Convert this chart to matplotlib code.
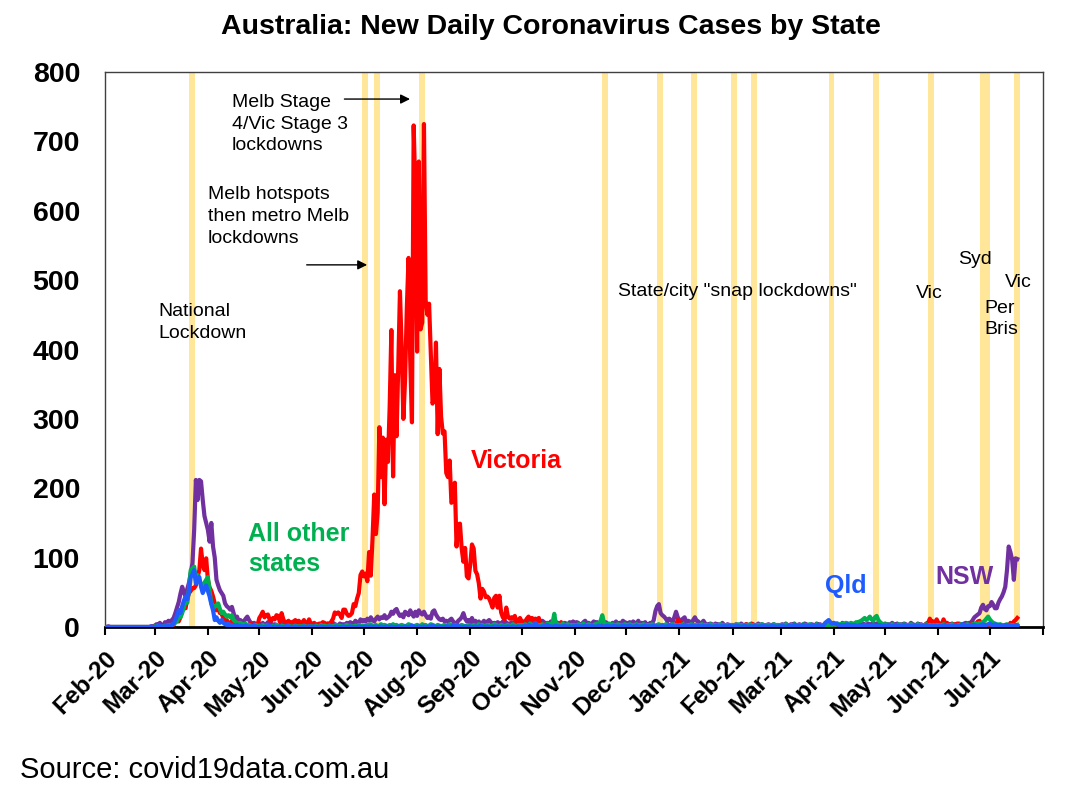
import matplotlib
matplotlib.use("Agg")
import matplotlib.pyplot as plt
import matplotlib.dates as mdates
import numpy as np
import pandas as pd

plt.rcParams['font.family'] = ['Liberation Sans', 'DejaVu Sans']

START = "2020-02-01"

# ---------------- data (daily new cases, from 1 Feb 2020) ----------------
victoria = [
    # Feb-20
    0,0,0,0,0,0,0,0,0,0, 0,0,0,0,0,0,0,0,0,0, 0,0,0,0,0,0,0,0,1,
    # Mar-20
    1,1,0,0,1,3,1,1,1,1, 3,3,9,13,8,14,23,27,27,41, 49,52,56,56,60,72,82,113,90,82, 99,
    # Apr-20
    68,57,52,44,34,24,30,20,20,12, 8,10,6,3,9,4,4,2,6,5, 3,4,3,2,1,5,2,2,3,3,
    # May-20
    13,17,22,14,17,18,11,9,13,11, 17,16,7,20,11,6,7,9,4,7, 8,10,4,9,5,6,10,3,5,11, 5,
    # Jun-20
    4,6,3,3,5,4,7,6,4,5, 3,8,12,21,19,21,18,13,25,25, 19,16,17,20,33,30,41,49,75,80,
    # Jul-20
    73,77,66,108,74,127,191,134,165,288, 216,273,177,270,238,317,428,217,363,275,
    374,484,403,300,357,459,532,384,295,723, 627,
    # Aug-20
    397,671,429,439,725,471,450,466,394,322, 331,410,278,372,303,279,282,222,216,240,
    179,182,208,116,148,149,113,94,114,73, 70,
    # Sep-20
    90,119,113,81,76,63,41,55,51,43, 44,41,35,28,42,45,28,45,21,14, 11,28,15,12,14,12,16,5,10,13,
    # Oct-20
    8,6,8,12,15,11,13,11,12,11, 13,1,5,3,2,1,2,1,4,1, 3,1,1,7,0,0,0,0,2,1, 0,
    # Nov-20
    0,0,0,1,0,0,0,0,0,1, 0,0,0,0,0,1,0,0,0,0, 0,0,0,1,0,0,0,0,0,1,
    # Dec-20
    0,0,0,0,1,0,0,0,1,0, 0,0,0,0,0,1,0,0,0,0, 1,0,0,0,0,0,0,1,1,3, 10,
    # Jan-21
    3,7,3,2,1,1,1,0,1,0, 1,0,0,0,0,1,0,0,1,0, 0,1,0,0,0,0,0,1,0,0, 1,
    # Feb-21
    1,0,0,2,1,1,1,3,4,2, 3,5,2,1,1,0,0,1,1,0, 2,1,0,0,0,0,0,0,
    # Mar-21
    0,1,1,2,1,0,3,1,1,0, 1,1,0,2,1,0,1,0,1,1, 0,1,0,1,0,0,1,2,1,0, 1,
    # Apr-21
    1,2,1,0,1,0,1,1,2,0, 1,1,1,0,2,1,0,1,0,0, 1,1,0,1,0,1,2,1,0,0,
    # May-21
    1,0,1,1,2,1,1,0,1,0, 0,1,0,1,1,0,2,0,1,0, 1,0,1,1,5,6,12,7,8,5, 11,
    # Jun-21
    6,5,4,11,5,6,4,3,3,4, 3,5,2,4,1,0,1,1,1,3, 6,4,5,8,9,3,2,3,1,1,
    # Jul-21
    1,2,1,2,1,0,1,1,1,2, 2,1,6,2,8,10,13,
]

nsw = [
    # Feb-20
    0,0,1,0,0,0,0,0,0,0, 0,0,0,0,0,0,0,0,0,0, 0,0,0,0,0,0,0,1,1,
    # Mar-20
    2,4,3,6,3,1,7,4,9,8, 10,13,20,28,36,48,58,50,44,55, 64,78,92,140,212,183,212,210,183,160, 150,
    # Apr-20
    140,123,150,116,100,68,60,53,49,45, 34,30,28,25,29,20,10,15,8,10, 6,8,12,15,10,6,4,6,3,5,
    # May-20
    5,3,6,2,4,7,3,5,2,4, 3,1,2,5,3,2,1,4,2,3, 6,1,2,3,1,2,5,3,1,2, 4,
    # Jun-20
    1,2,3,4,2,1,3,2,4,5, 2,3,6,4,3,2,5,3,4,2, 6,3,7,5,4,9,7,6,11,8,
    # Jul-20
    10,8,12,9,14,10,8,12,15,11, 14,13,17,12,14,16,22,19,24,26, 20,16,18,14,22,20,17,24,19,15, 22,
    # Aug-20
    16,24,20,18,22,17,13,15,12,22, 24,18,14,11,10,12,8,9,7,10, 12,8,6,5,9,11,14,20,12,8, 10,
    # Sep-20
    7,13,6,9,5,8,4,6,9,5, 8,10,7,4,6,3,7,5,4,8, 9,6,5,3,7,4,6,8,10,5,
    # Oct-20
    6,8,5,7,6,10,9,6,7,5, 8,6,9,7,5,6,4,8,5,9, 7,6,5,4,3,6,5,4,7,5, 8,
    # Nov-20
    5,7,6,3,4,7,9,5,6,4, 5,8,6,7,3,5,6,4,7,5, 3,4,6,5,8,4,6,5,9,7,
    # Dec-20
    6,5,7,4,8,6,5,9,4,6, 5,7,3,4,6,5,10,23,30,33, 20,17,15,12,8,12,10,7,14,22, 14,
    # Jan-21
    10,8,12,14,6,9,8,5,10,14, 9,8,4,6,9,5,4,3,5,4, 2,5,3,4,2,6,3,2,4,3, 2,
    # Feb-21
    3,2,4,3,2,5,3,2,4,3, 2,3,4,2,3,5,2,4,3,2, 3,4,2,3,4,2,3,2,
    # Mar-21
    3,4,2,5,3,2,4,3,5,2, 3,4,2,3,5,4,2,3,4,3, 2,5,3,4,2,3,4,2,3,5, 2,
    # Apr-21
    3,4,5,3,2,6,4,3,5,2, 4,3,5,2,6,4,3,5,4,2, 5,3,4,6,3,5,4,2,3,4,
    # May-21
    5,3,4,2,6,4,3,5,2,4, 3,5,4,2,3,6,4,3,2,5, 3,4,2,3,5,4,3,2,4,3, 5,
    # Jun-21
    3,2,4,5,3,2,4,3,5,2, 4,3,5,4,3,5,6,4,6,6, 10,14,16,18,20,28,32,26,24,30,
    # Jul-21
    30,36,32,27,27,35,40,44,50,58, 82,116,108,97,68,99,98,
]

other_states = [
    # Feb-20
    0,0,0,0,0,0,0,0,0,0, 0,0,0,0,0,0,0,0,0,0, 0,0,0,0,0,0,0,0,0,
    # Mar-20
    1,0,2,1,0,1,2,1,3,2, 3,4,6,8,15,14,20,28,39,35, 55,82,84,87,68,75,66,62,58,64, 68,
    # Apr-20
    72,52,34,30,29,31,34,26,20,22, 18,15,17,14,17,10,8,6,5,6, 4,3,5,2,3,2,1,2,3,1,
    # May-20
    2,1,3,1,2,2,1,0,2,1, 3,1,0,2,1,1,0,2,1,0, 1,2,0,1,1,0,2,1,0,1, 1,
    # Jun-20
    1,0,2,1,0,3,1,2,0,1, 2,1,0,2,3,1,2,0,1,2, 3,1,2,1,0,2,1,3,2,1,
    # Jul-20
    2,1,3,2,4,1,2,3,1,2, 4,2,3,2,1,3,2,4,2,3, 1,2,3,2,1,2,4,3,2,1, 2,
    # Aug-20
    3,2,1,4,2,3,1,2,4,3, 2,1,3,2,1,2,3,1,2,4, 2,1,3,2,1,2,3,2,1,2, 3,
    # Sep-20
    2,1,3,2,1,4,2,3,1,2, 3,2,1,2,4,3,2,1,3,2, 1,2,3,1,2,4,2,1,3,2,
    # Oct-20
    3,2,4,2,3,5,2,3,4,2, 3,2,4,3,2,5,3,4,6,19, 3,4,2,3,5,2,3,4,2,3, 2,
    # Nov-20
    3,2,4,3,2,5,3,2,4,3, 2,3,4,5,3,9,17,6,4,3, 5,2,4,3,2,4,3,2,3,4,
    # Dec-20
    3,2,4,3,2,3,4,2,3,2, 4,3,2,3,2,4,3,2,3,4, 2,3,2,4,3,2,3,4,2,3, 2,
    # Jan-21
    3,2,4,2,3,2,3,4,2,3, 2,3,2,4,3,2,3,2,4,3, 2,3,2,3,4,2,3,2,3,2, 3,
    # Feb-21
    2,3,2,4,3,2,3,2,3,2, 4,3,2,3,2,3,2,4,3,2, 3,2,3,2,4,3,2,3,
    # Mar-21
    2,3,2,4,3,2,3,2,4,3, 2,3,2,4,3,2,3,4,2,3, 2,4,3,2,3,2,4,3,2,5, 3,
    # Apr-21
    4,3,5,4,3,5,4,6,5,4, 6,5,4,7,6,8,9,11,13,10, 12,15,11,9,14,16,10,7,5,4,
    # May-21
    3,4,3,2,4,3,2,3,4,2, 3,4,2,3,2,4,3,2,3,4, 2,3,2,3,4,2,3,2,3,2, 3,
    # Jun-21
    2,3,2,4,3,2,3,2,4,3, 2,3,2,4,3,2,3,4,2,3, 4,3,5,4,6,5,7,9,12,15,
    # Jul-21
    11,8,6,5,4,3,4,3,2,3, 4,2,3,2,3,2,3,
]

qld = [
    # Feb-20
    0,0,0,0,0,0,0,0,0,0, 0,0,0,0,0,0,0,0,0,0, 0,0,0,0,0,0,0,1,0,
    # Mar-20
    0,1,0,2,0,1,0,2,2,1, 3,5,10,16,24,20,30,38,44,40, 52,72,76,82,63,68,72,58,49,55, 60,
    # Apr-20
    52,44,33,24,10,14,9,6,10,6, 4,3,5,2,3,1,2,3,1,2, 0,1,2,1,0,1,0,2,1,0,
    # May-20
    0,1,0,0,1,0,2,0,0,1, 0,0,1,0,0,0,2,1,0,0, 0,1,0,0,0,0,1,0,0,1, 0,
    # Jun-20
    0,1,0,0,0,1,0,0,0,0, 1,0,0,0,1,0,0,0,1,0, 0,0,1,0,0,0,0,1,0,0,
    # Jul-20
    0,1,0,0,1,0,0,1,0,0, 1,0,0,1,0,0,1,0,0,0, 1,0,0,0,1,0,0,1,2,1, 0,
    # Aug-20
    0,1,0,0,1,0,0,1,0,2, 1,0,0,1,0,0,0,1,1,0, 0,3,1,2,1,1,0,0,1,0, 0,
    # Sep-20
    1,0,0,1,0,0,2,1,0,0, 1,0,0,0,1,0,1,0,0,1, 0,0,1,0,0,1,0,0,1,0,
    # Oct-20
    1,0,2,1,3,2,1,0,6,2, 1,0,1,2,3,3,1,1,0,1, 2,0,1,1,0,2,1,0,1,0, 1,
    # Nov-20
    1,2,0,1,1,0,2,1,1,0, 2,1,0,1,2,1,0,1,1,2, 0,1,1,2,0,1,0,1,2,1,
    # Dec-20
    1,0,2,1,0,1,2,1,0,1, 1,2,0,1,1,0,2,1,1,0, 1,2,1,0,1,3,1,2,1,1, 2,
    # Jan-21
    1,2,1,3,2,1,1,2,2,1, 0,2,1,1,2,0,1,2,1,0, 1,1,2,0,1,1,2,1,0,2, 1,
    # Feb-21
    1,0,2,1,1,0,1,2,1,0, 1,1,0,2,1,0,1,1,2,0, 1,0,1,2,1,1,0,1,
    # Mar-21
    1,2,1,0,1,2,1,1,3,2, 1,2,1,3,2,1,2,1,2,3, 2,1,3,2,1,2,6,8,10,7, 5,
    # Apr-21
    6,5,4,3,2,3,2,3,4,2, 3,2,3,2,1,3,2,1,3,2, 1,2,1,3,2,1,2,3,1,2,
    # May-21
    2,1,3,2,1,2,3,1,2,1, 2,3,1,2,1,2,1,3,2,1, 2,1,2,1,3,2,1,2,1,2, 1,
    # Jun-21
    1,2,1,2,3,1,2,1,1,2, 3,2,1,2,4,3,2,1,2,3, 2,3,2,1,2,3,4,2,3,4,
    # Jul-21
    5,3,2,4,3,2,3,1,2,3, 2,3,2,1,2,3,2,
]

# lockdown periods (shaded bands)
lockdown_starts = ["2020-03-21", "2020-06-30", "2020-07-07", "2020-08-02", "2020-11-17",
                   "2020-12-19", "2021-01-08", "2021-01-31", "2021-02-12", "2021-03-29",
                   "2021-04-24", "2021-05-26", "2021-06-25", "2021-07-15"]
lockdown_days = [3.4, 3.4, 3.4, 3.4, 3.4, 3.4, 3.4, 3.4, 3.4, 3.4, 3.4, 3.4, 6.3, 3.4]

y_ticks = [0, 100, 200, 300, 400, 500, 600, 700, 800]

# ---------------- figure ----------------
fig = plt.figure(figsize=(10.76, 7.98), dpi=100)
ax = fig.add_axes([105/1076, 171/798, 938/1076, 555/798])

def dates_for(series):
    return pd.date_range(START, periods=len(series), freq="D")

for s, d in zip(lockdown_starts, lockdown_days):
    t0 = pd.Timestamp(s)
    ax.axvspan(t0, t0 + pd.Timedelta(days=d), color="#FFE699", lw=0, zorder=0)

lw = 3.0
ax.plot(dates_for(nsw), nsw, color="#7030A0", lw=lw, zorder=2, solid_joinstyle="round")
ax.plot(dates_for(victoria), victoria, color="#FF0000", lw=lw, zorder=3, solid_joinstyle="round")
ax.plot(dates_for(other_states), other_states, color="#00B050", lw=lw, zorder=4, solid_joinstyle="round")
ax.plot(dates_for(qld), qld, color="#1F5CFF", lw=lw, zorder=5, solid_joinstyle="round")

ax.set_xlim(pd.Timestamp("2020-02-01"), pd.Timestamp("2021-08-01"))
ax.set_ylim(0, 800)
ax.set_yticks(y_ticks)
ax.set_yticklabels([str(v) for v in y_ticks], fontsize=20.5, fontweight="bold")
ax.tick_params(axis="y", length=0, pad=18)

months = pd.date_range("2020-02-01", "2021-08-01", freq="MS")
ax.set_xticks(months)
labels = [m.strftime("%b-%y") for m in months]
labels[-1] = ""
ax.set_xticklabels(labels, rotation=45, ha="right", rotation_mode="anchor",
                   fontsize=17.5, fontweight="bold")
ax.tick_params(axis="x", direction="out", length=6, width=1.5, pad=8)

for side in ["top", "right", "left"]:
    ax.spines[side].set_color("#404040")
    ax.spines[side].set_linewidth(1.0)
ax.spines["bottom"].set_color("black")
ax.spines["bottom"].set_linewidth(2.0)

def day(s):
    return pd.Timestamp(START) + pd.Timedelta(days=s)

# annotations
fs = 14
ax.text(day(74), 725, "Melb Stage\n4/Vic Stage 3\nlockdowns", fontsize=fs, va="center", ha="left", linespacing=1.38, zorder=6)
ax.annotate("", xy=(day(179.5), 761), xytext=(day(138), 761),
            arrowprops=dict(arrowstyle="-|>", color="black", lw=1, mutation_scale=14))
ax.text(day(60), 592, "Melb hotspots\nthen metro Melb\nlockdowns", fontsize=fs, va="center", ha="left", linespacing=1.38, zorder=6)
ax.annotate("", xy=(day(154.5), 522), xytext=(day(116), 522),
            arrowprops=dict(arrowstyle="-|>", color="black", lw=1, mutation_scale=14))
ax.text(day(31), 439, "National\nLockdown", fontsize=fs, va="center", ha="left", linespacing=1.38, zorder=6)
ax.text(day(299), 483, 'State/city "snap lockdowns"', fontsize=fs, va="center", ha="left", zorder=6)
ax.text(day(473), 480, "Vic", fontsize=fs, va="center", ha="left", zorder=6)
ax.text(day(497.5), 530, "Syd", fontsize=fs, va="center", ha="left", zorder=6)
ax.text(day(513), 444, "Per\nBris", fontsize=fs, va="center", ha="left", linespacing=1.3, zorder=6)
ax.text(day(525), 496, "Vic", fontsize=fs, va="center", ha="left", zorder=6)

# series labels
ax.text(day(213.5), 239, "Victoria", color="#FF0000", fontsize=18, fontweight="bold", va="center", ha="left", zorder=6)
ax.text(day(83.5), 112, "All other\nstates", color="#00B050", fontsize=18, fontweight="bold", va="center", ha="left", linespacing=1.3, zorder=6)
ax.text(day(420), 59, "Qld", color="#1F5CFF", fontsize=18, fontweight="bold", va="center", ha="left", zorder=6)
ax.text(day(484.5), 72, "NSW", color="#7030A0", fontsize=18, fontweight="bold", va="center", ha="left", zorder=6)

fig.text(551/1076, 1 - 27/798, "Australia: New Daily Coronavirus Cases by State",
         ha="center", va="center", fontsize=20.5, fontweight="bold")
fig.text(20/1076, 1 - 770/798, "Source: covid19data.com.au", ha="left", va="center", fontsize=21)

fig.savefig("out.png", dpi=100)
